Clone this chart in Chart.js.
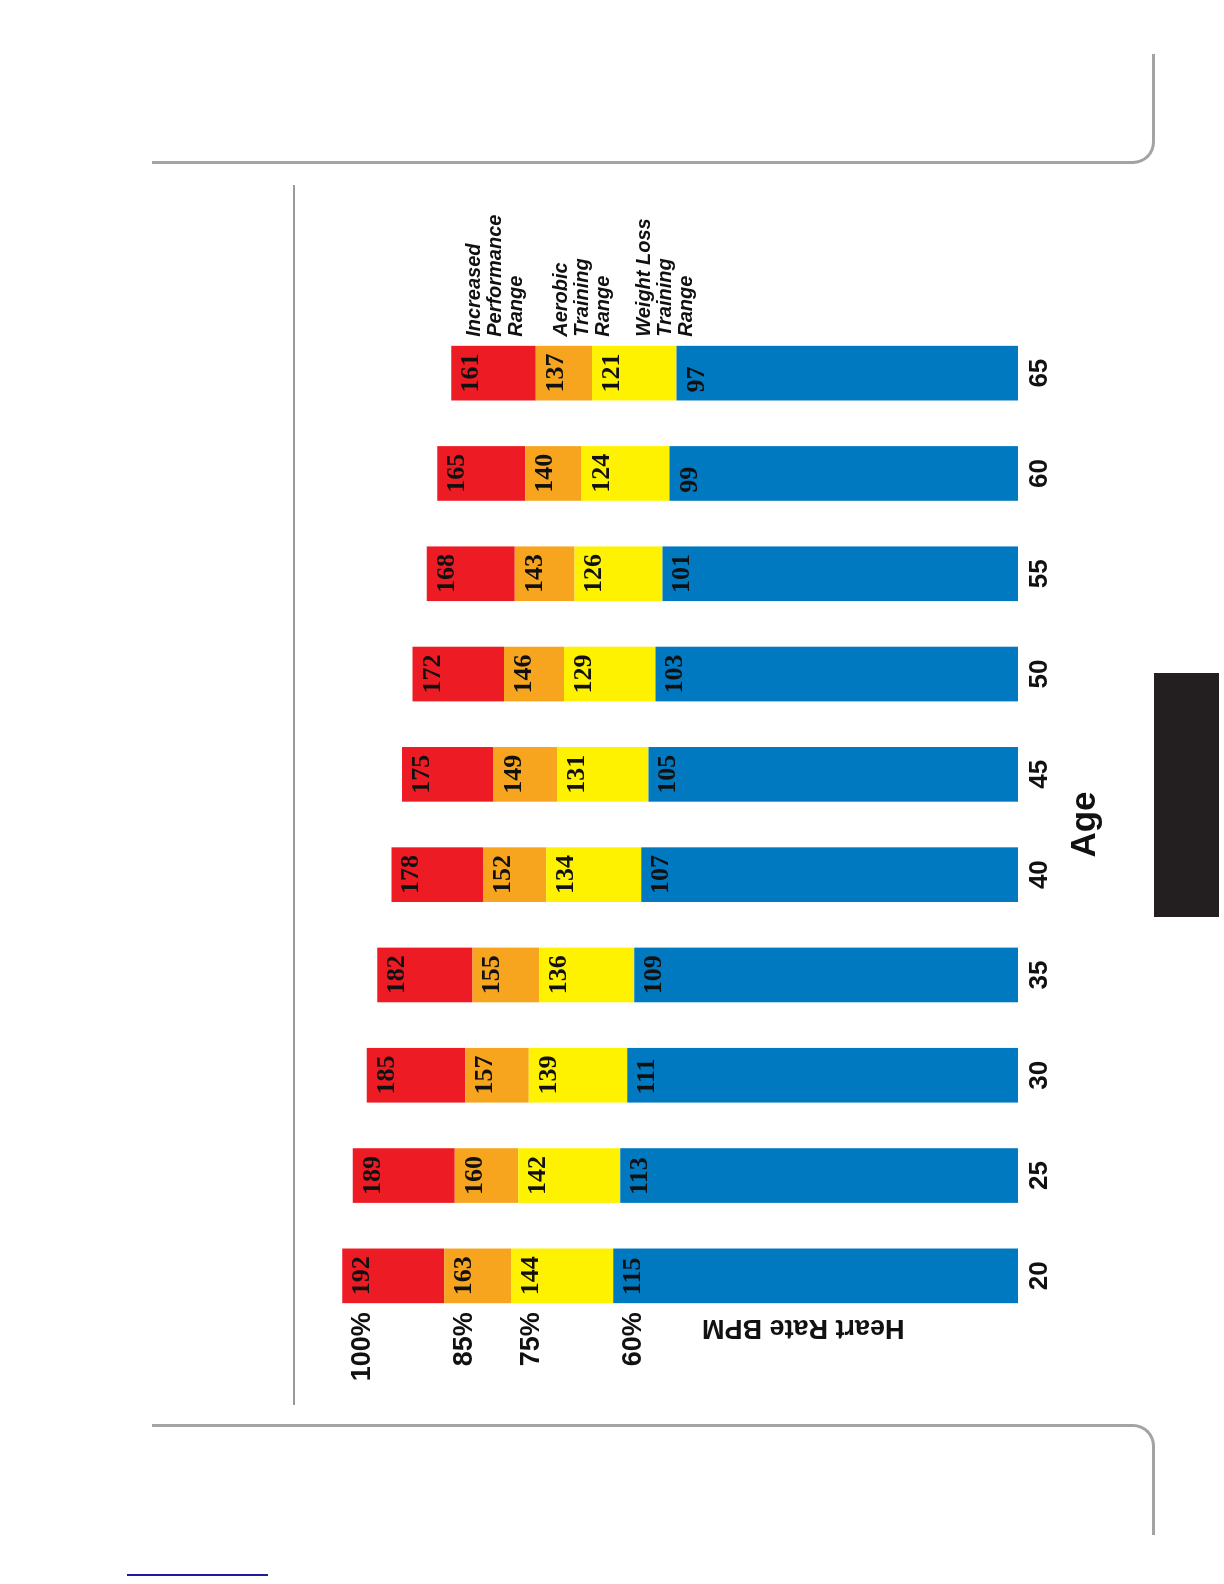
<!DOCTYPE html>
<html>
<head>
<meta charset="utf-8">
<script src="https://cdn.jsdelivr.net/npm/chart.js@4"></script>
<style>
  body { margin: 0; background: #fff; width: 1224px; height: 1584px; position: relative; overflow: hidden; }
  #chart { position: absolute; left: 0; top: 0; transform-origin: 0 0; transform: translate(300px, 1390px) rotate(-90deg); }
  .top-frame { position: absolute; left: 152px; top: 54px; width: 1000px; height: 107px; border-right: 3px solid #a3a3a3; border-bottom: 3px solid #a3a3a3; border-bottom-right-radius: 22px; }
  .bottom-frame { position: absolute; left: 152px; top: 1424px; width: 1000px; height: 108px; border-right: 3px solid #a3a3a3; border-top: 3px solid #a3a3a3; border-top-right-radius: 22px; }
  .rule { position: absolute; left: 293px; top: 185px; width: 2px; height: 1220px; background: #9a9a9a; }
  .tab { position: absolute; left: 1154px; top: 673px; width: 65px; height: 244px; background: #231f20; }
  .link { position: absolute; left: 127px; top: 1574px; width: 141px; height: 2px; background: #1c1ca0; }
</style>
</head>
<body>
<div class="top-frame"></div>
<div class="bottom-frame"></div>
<div class="rule"></div>
<div class="tab"></div>
<div class="link"></div>
<canvas id="chart" width="1200" height="820"></canvas>
<script>
// 나이별 심박수 구간 (BPM)
var ages = ['20', '25', '30', '35', '40', '45', '50', '55', '60', '65'];
var bpm60 = [115, 113, 111, 109, 107, 105, 103, 101, 99, 97];
var bpm75 = [144, 142, 139, 136, 134, 131, 129, 126, 124, 121];
var bpm85 = [163, 160, 157, 155, 152, 149, 146, 143, 140, 137];
var bpm100 = [192, 189, 185, 182, 178, 175, 172, 168, 165, 161];

var zoneLabels = ['60%', '75%', '85%', '100%'];
var zoneColors = ['#0079c1', '#fff200', '#f7a51f', '#ed1c24'];
var rangeNames = [
  ['Increased', 'Performance', 'Range'],
  ['Aerobic', 'Training', 'Range'],
  ['Weight Loss', 'Training', 'Range']
];

var bounds = [bpm60, bpm75, bpm85, bpm100];

// 구간별 높이 (쌓기용)
function zone(hi, lo) {
  return hi.map(function (v, i) { return lo ? v - lo[i] : v; });
}

// 막대 안 숫자, 퍼센트, 구간 이름
var barText = {
  id: 'barText',
  afterDatasetsDraw: function (chart) {
    var ctx = chart.ctx;
    ctx.save();
    ctx.fillStyle = '#111';
    ctx.textBaseline = 'alphabetic';

    ctx.font = 'bold 26px "Liberation Serif"';
    ctx.textAlign = 'left';
    chart.data.datasets.forEach(function (ds, d) {
      chart.getDatasetMeta(d).data.forEach(function (bar, i) {
        ctx.fillText(String(bounds[d][i]), bar.x - bar.width / 2 + 8, bar.y + 27);
      });
    });

    ctx.font = 'bold 27px "Liberation Sans"';
    ctx.textAlign = 'right';
    chart.data.datasets.forEach(function (ds, d) {
      var bar = chart.getDatasetMeta(d).data[0];
      ctx.fillText(zoneLabels[d], bar.x - bar.width / 2 - 9, bar.y + 28);
    });

    // 마지막 막대 옆 구간 이름 (빨간 구간 위쪽 기준)
    ctx.font = 'italic bold 20px "Liberation Sans"';
    ctx.textAlign = 'left';
    var top = chart.getDatasetMeta(3).data[ages.length - 1];
    var gx = top.x + top.width / 2 + 9;
    [0, 87, 170].forEach(function (off, g) {
      rangeNames[g].forEach(function (line, k) {
        ctx.fillText(line, gx, top.y + off + 29 + k * 21);
      });
    });

    // 세로축 제목
    var yScale = chart.scales.y;
    ctx.translate(chart.chartArea.left - 1.5, yScale.getPixelForValue(61));
    ctx.rotate(-Math.PI / 2);
    ctx.font = 'bold 27px "Liberation Sans"';
    ctx.textAlign = 'center';
    ctx.textBaseline = 'middle';
    ctx.fillText('Heart Rate BPM', 0, 0);
    ctx.restore();
  }
};

var ctx = document.getElementById('chart').getContext('2d');
var hrChart = new Chart(ctx, {
  type: 'bar',
  data: {
    labels: ages,
    datasets: [
      { label: '60%', data: zone(bpm60), backgroundColor: zoneColors[0] },
      { label: '75%', data: zone(bpm75, bpm60), backgroundColor: zoneColors[1] },
      { label: '85%', data: zone(bpm85, bpm75), backgroundColor: zoneColors[2] },
      { label: '100%', data: zone(bpm100, bpm85), backgroundColor: zoneColors[3] }
    ]
  },
  options: {
    responsive: false,
    animation: false,
    devicePixelRatio: 1,
    layout: { padding: { left: 64, right: 133, top: 14, bottom: 0 } },
    datasets: { bar: { categoryPercentage: 1, barPercentage: 0.545, borderWidth: 0 } },
    plugins: {
      legend: { display: false },
      tooltip: { enabled: false }
    },
    scales: {
      x: {
        stacked: true,
        afterFit: function (s) { s.height = 102; },
        grid: { display: false, drawTicks: false },
        border: { display: false },
        ticks: { color: '#111', padding: 6, maxRotation: 0, font: { family: 'Liberation Sans', weight: 'bold', size: 26 } },
        title: { display: true, text: 'Age', color: '#111', padding: { top: 0, bottom: 14 }, font: { family: 'Liberation Sans', weight: 'bold', size: 35 } }
      },
      y: {
        stacked: true,
        display: false,
        min: 0,
        max: 200
      }
    }
  },
  plugins: [barText]
});
</script>
</body>
</html>
